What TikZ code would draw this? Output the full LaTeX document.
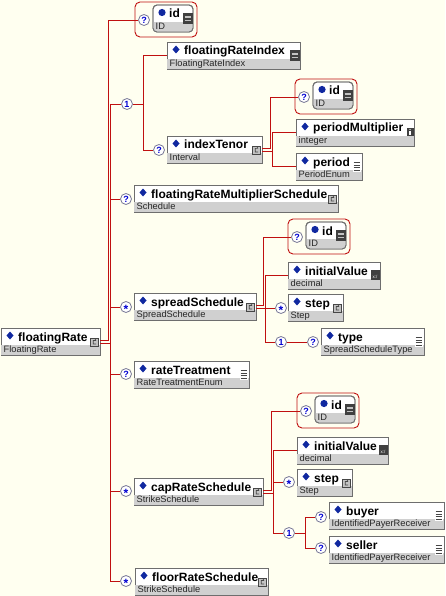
\documentclass[tikz,border=0pt]{standalone}
\usepackage{fontspec}
\setmainfont{Liberation Sans}
\definecolor{bgc}{RGB}{255,255,240}
\definecolor{rlc}{RGB}{192,16,16}
\definecolor{bandc}{RGB}{208,208,208}
\definecolor{bordc}{RGB}{110,110,110}
\definecolor{diac}{RGB}{16,40,160}
\definecolor{qblue}{RGB}{0,0,210}
\definecolor{qbord}{RGB}{120,120,150}
\definecolor{icg}{RGB}{195,195,195}
\definecolor{icd}{RGB}{70,70,70}
\definecolor{icdk}{RGB}{64,64,64}
\tikzset{
  rl/.style={draw=rlc, line width=0.9pt},
  ebox/.style={draw=bordc, fill=white, line width=0.9pt, anchor=north west, inner sep=0pt, outer sep=0pt, minimum height=27pt},
  agrp/.style={draw=rlc, line width=0.9pt, rounded corners=5pt, anchor=north west, minimum width=62pt, minimum height=35pt, inner sep=0pt, outer sep=0pt},
  abox/.style={draw=bordc, fill=white, line width=0.9pt, rounded corners=4pt, anchor=north west, minimum width=40pt, minimum height=27pt, inner sep=0pt, outer sep=0pt},
  qc/.style={circle, draw=qbord, fill=white, line width=0.8pt, minimum size=11pt, inner sep=0pt, text=qblue, font=\bfseries\fontsize{9}{9}\selectfont},
  nametxt/.style={anchor=base west, inner sep=0pt, font=\bfseries\fontsize{12}{12}\selectfont},
  typetxt/.style={anchor=base west, inner sep=0pt, font=\fontsize{9.3}{9.3}\selectfont, text=black!85}
}
\newcommand\astx{\raisebox{-6.5pt}[0pt][0pt]{\fontsize{12}{12}\selectfont *}}
% icons: #1 right x of box, #2 top y of box
\newcommand\icC[2]{%
  \filldraw[fill=icg, draw=icd, line width=0.7pt] (#1-9.5,#2+10) rectangle (#1-1.5,#2+18);
  \draw[icd, line width=0.7pt] (#1-3.8,#2+12.4) -- (#1-6.8,#2+12.4) -- (#1-6.8,#2+16) -- (#1-3.8,#2+16) (#1-5.2,#2+12.4) -- (#1-4.2,#2+11.4);
}
\newcommand\icEq[2]{%
  \fill[icdk] (#1-10,#2+8) rectangle (#1-0.5,#2+19);
  \draw[icg, line width=1.1pt] (#1-8.5,#2+12) -- (#1-2,#2+12) (#1-8.5,#2+15.2) -- (#1-2,#2+15.2);
}
\newcommand\icEnum[2]{%
  \fill[white] (#1-9.5,#2+8) rectangle (#1-1,#2+18.5);
  \draw[icd, line width=0.9pt] (#1-8.5,#2+9.5) -- (#1-2,#2+9.5) (#1-8.5,#2+12.2) -- (#1-2,#2+12.2) (#1-8.5,#2+14.9) -- (#1-2,#2+14.9) (#1-8.5,#2+17.6) -- (#1-2,#2+17.6);
}
\newcommand\icInfo[2]{%
  \fill[icdk] (#1-7.5,#2+9) rectangle (#1-0.5,#2+17);
  \draw[white, line width=1.1pt] (#1-4,#2+12.3) -- (#1-4,#2+16);
  \fill[white] (#1-4,#2+10.6) circle (0.65pt);
}
\newcommand\icXsd[2]{%
  \fill[icdk] (#1-9.5,#2+8) rectangle (#1-0.5,#2+18);
  \node[inner sep=0pt, text=white, font=\fontsize{4.5}{4.5}\selectfont] at (#1-5,#2+14.5) {x:/};
}
% element box: #1 name, #2 left, #3 top, #4 right, #5 title, #6 type, #7 icon
\newcommand\xel[7]{%
  \node[ebox, minimum width={(#4-#2)*1pt}] (#1) at (#2,#3) {};
  \fill[bandc] (#2+0.45,#3+17) rectangle (#4-0.45,#3+26.55);
  \fill[diac] (#2+9,#3+3.5) -- (#2+12.5,#3+7.5) -- (#2+9,#3+11.5) -- (#2+5.5,#3+7.5) -- cycle;
  \node[nametxt] (#1-n) at (#2+17,#3+13) {#5};
  \node[typetxt] (#1-t) at (#2+2.5,#3+24.3) {#6};
  #7{#4}{#3}%
}
% attribute group: #1 name, #2 X, #3 Y
\newcommand\xattr[3]{%
  \node[agrp] (#1) at (#2,#3) {};
  \node[qc] (#1q) at (#2+9,#3+18) {?};
  \node[abox] (#1b) at (#2+18,#3+3) {};
  \begin{scope}
    \clip[rounded corners=4pt] (#2+18,#3+3) rectangle (#2+58,#3+30);
    \fill[bandc] (#2+18,#3+20) rectangle (#2+58,#3+30);
  \end{scope}
  \draw[draw=bordc, line width=0.9pt, rounded corners=4pt] (#1b.north west) rectangle (#1b.south east);
  \fill[diac] (#2+27,#3+10.5) circle (3.6pt);
  \node[nametxt] (#1n) at (#2+34,#3+16) {id};
  \node[typetxt] (#1t) at (#2+20.5,#3+27.5) {ID};
  \icEq{#2+58}{#3+3}%
}
\begin{document}
\begin{tikzpicture}[x=1pt,y=-1pt]
\useasboundingbox[fill=bgc] (0,0) rectangle (445,596);

% elements
\xel{fr}{1}{328}{100}{floatingRate}{FloatingRate}{\icC}
\xel{fri}{167}{42}{300}{floatingRateIndex}{FloatingRateIndex}{\icEq}
\xel{it}{167}{136}{262}{indexTenor}{Interval}{\icC}
\xel{pm}{296}{119}{414}{periodMultiplier}{integer}{\icInfo}
\xel{per}{296}{153}{362}{period}{PeriodEnum}{\icEnum}
\xel{frms}{134}{185}{338}{floatingRateMultiplierSchedule}{Schedule}{\icC}
\xel{ss}{134}{293}{256}{spreadSchedule}{SpreadSchedule}{\icC}
\xel{iv1}{288}{262}{380}{initialValue}{decimal}{\icXsd}
\xel{st1}{288}{294}{343}{step}{Step}{\icC}
\xel{ty}{321}{328}{424}{type}{SpreadScheduleType}{\icEnum}
\xel{rt}{134}{361}{249}{rateTreatment}{RateTreatmentEnum}{\icEnum}
\xel{cr}{134}{478}{263}{capRateSchedule}{StrikeSchedule}{\icC}
\xel{iv2}{297}{437}{388}{initialValue}{decimal}{\icXsd}
\xel{st2}{297}{469}{352}{step}{Step}{\icC}
\xel{by}{329}{502}{444}{buyer}{IdentifiedPayerReceiver}{\icEnum}
\xel{se}{329}{536}{444}{seller}{IdentifiedPayerReceiver}{\icEnum}
\xel{fl}{135}{568}{268}{floorRateSchedule}{StrikeSchedule}{\icC}

% attribute groups
\xattr{ag1}{135}{2}
\xattr{ag2}{295}{79}
\xattr{ag3}{288}{219}
\xattr{ag4}{297}{393}

% cardinality / compositor circles
\node[qc] (s1) at (127,104) {1};
\node[qc] (s2) at (281,342) {1};
\node[qc] (s3) at (289,533) {1};
\node[qc] (q-it) at (159,150) {?};
\node[qc] (q-frms) at (126,199) {?};
\node[qc] (q-ss) at (126,307) {\astx};
\node[qc] (q-st1) at (281,308) {\astx};
\node[qc] (q-ty) at (313,342) {?};
\node[qc] (q-rt) at (126,374) {?};
\node[qc] (q-cr) at (126,491) {\astx};
\node[qc] (q-st2) at (289,482) {\astx};
\node[qc] (q-by) at (321,517) {?};
\node[qc] (q-se) at (321,548) {?};
\node[qc] (q-fl) at (126,581) {\astx};

% root connectors
\coordinate (rA) at (108,0);
\coordinate (rB) at (110.5,0);
\draw[rl] ([yshift=1.5pt]fr.east) -| (rA |- ag1q.west) -- (ag1q.west);
\draw[rl] ([yshift=-1.5pt]fr.east) -| (rB |- s1.west) -- (s1.west);
\draw[rl] (rB |- s1.west) |- (q-fl.west);
\foreach \n in {q-frms,q-ss,q-rt,q-cr} \draw[rl] (rB |- \n.west) -- (\n.west);

% sequence under root
\coordinate (s1j) at (143,0);
\draw[rl] (s1.east) -- (s1j |- s1.east) |- (fri.west);
\draw[rl] (s1j |- s1.east) |- (q-it.west);

% indexTenor
\coordinate (itA) at (270,0);
\coordinate (itB) at (272.5,0);
\draw[rl] ([yshift=1.5pt]it.east) -| (itA |- ag2q.west) -- (ag2q.west);
\draw[rl] ([yshift=-1.5pt]it.east) -| (itB |- pm.west) -- (pm.west);
\draw[rl] (itB |- pm.west) |- (per.west);

% spreadSchedule
\coordinate (ssA) at (263,0);
\coordinate (ssB) at (265.5,0);
\draw[rl] ([yshift=1.5pt]ss.east) -| (ssA |- ag3q.west) -- (ag3q.west);
\draw[rl] ([yshift=-1.5pt]ss.east) -| (ssB |- iv1.west) -- (iv1.west);
\draw[rl] (ssB |- iv1.west) |- (s2.west);
\draw[rl] (ssB |- q-st1.west) -- (q-st1.west);
\draw[rl] (s2.east) -- (q-ty.west);

% capRateSchedule
\coordinate (crA) at (271,0);
\coordinate (crB) at (273.5,0);
\draw[rl] ([yshift=1.5pt]cr.east) -| (crA |- ag4q.west) -- (ag4q.west);
\draw[rl] ([yshift=-1.5pt]cr.east) -| (crB |- iv2.west) -- (iv2.west);
\draw[rl] (crB |- iv2.west) |- (s3.west);
\draw[rl] (crB |- q-st2.west) -- (q-st2.west);
\coordinate (s3j) at (305,0);
\draw[rl] (s3.east) -- (s3j |- s3.east) |- (q-by.west);
\draw[rl] (s3j |- s3.east) |- (q-se.west);
\end{tikzpicture}
\end{document}
